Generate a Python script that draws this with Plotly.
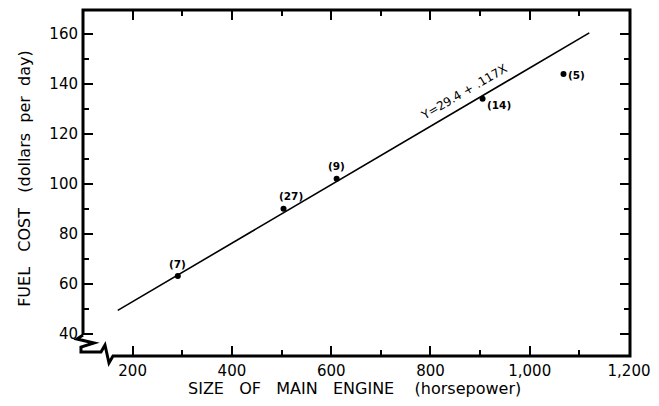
import plotly.graph_objects as go

# Observed fleet averages: engine size vs daily fuel cost, with sample counts
engine_hp = [291, 504, 611, 905, 1068]
fuel_cost = [63, 90, 102, 134, 144]
sample_n = ["(7)", "(27)", "(9)", "(14)", "(5)"]
label_dx = [0, 7, 0, 16, 13]
label_dy = [-12, -13, -13, 6, 1]

# Fitted regression line Y = a + bX drawn over this span
fit_a = 29.4
fit_b = 0.117
fit_span = [170, 1120]

x_ticks = [200, 400, 600, 800, 1000, 1200]
x_ticktext = ["200", "400", "600", "800", "1,000", "1,200"]
x_minor = [300, 500, 700, 900, 1100]
y_ticks = [40, 60, 80, 100, 120, 140, 160]
y_minor = [50, 70, 90, 110, 130, 150]

FONT = "DejaVu Sans"
INK = "#000000"

fig = go.Figure()

fig.add_trace(go.Scatter(
    x=fit_span,
    y=[fit_a + fit_b * v for v in fit_span],
    mode="lines",
    line=dict(color=INK, width=1.6),
    showlegend=False,
    hoverinfo="skip",
))

fig.add_trace(go.Scatter(
    x=engine_hp,
    y=fuel_cost,
    mode="markers",
    marker=dict(color=INK, size=6),
    showlegend=False,
))

annotations = []
for xv, yv, t, dx, dy in zip(engine_hp, fuel_cost, sample_n, label_dx, label_dy):
    annotations.append(dict(
        x=xv, y=yv, xref="x", yref="y", text=t, showarrow=False,
        xshift=dx, yshift=-dy,
        font=dict(family=FONT, size=10.5, color=INK, weight="bold"),
    ))

# Equation written along the fitted line
eq_x = 880
annotations.append(dict(
    x=eq_x, y=fit_a + fit_b * eq_x, xref="x", yref="y",
    text="Y=29.4 + .117X", showarrow=False,
    textangle=-30.4, xshift=-6, yshift=11,
    font=dict(family=FONT, size=12, color=INK),
))

# Axis titles
annotations.append(dict(
    x=(354 - 83) / 547.0, y=-0.095, xref="paper", yref="paper",
    text="SIZE   OF   MAIN   ENGINE    (horsepower)", showarrow=False,
    font=dict(family=FONT, size=16, color=INK),
    xanchor="center", yanchor="middle",
))
annotations.append(dict(
    x=-0.106, y=0.512, xref="paper", yref="paper",
    text="FUEL   COST   (dollars  per  day)", showarrow=False,
    textangle=-90,
    font=dict(family=FONT, size=16, color=INK),
    xanchor="center", yanchor="middle",
))

# Frame, with a broken corner at the lower left
W, H = 547.0, 346.0
def px(x, y):
    return (x - 83) / W, (356 - y) / H

frame_pts = [
    (83, 335), (83, 10), (630, 10), (630, 356), (113, 356),
    (109, 363), (105, 345), (101, 352), (81, 352),
    (81, 347), (94, 343), (77, 339), (83, 335),
]
path = "M " + " L ".join("%.4f,%.4f" % px(a, b) for a, b in frame_pts)
shapes = [dict(
    type="path", path=path, xref="paper", yref="paper",
    line=dict(color=INK, width=3), fillcolor="rgba(0,0,0,0)",
    layer="above",
)]

axis_common = dict(
    showgrid=False, zeroline=False, showline=False,
    ticks="inside", mirror="allticks", ticklen=10, tickwidth=2,
    tickcolor=INK,
    tickfont=dict(family=FONT, size=15, color=INK),
)

fig.update_layout(
    width=659, height=406,
    margin=dict(l=83, r=29, t=10, b=50),
    paper_bgcolor="white", plot_bgcolor="white",
    xaxis=dict(
        range=[100, 1202], tickmode="array", tickvals=x_ticks,
        ticktext=x_ticktext, ticklabelstandoff=4,
        minor=dict(tickmode="array", tickvals=x_minor, ticks="inside",
                   ticklen=6, tickwidth=1.5, tickcolor=INK),
        **axis_common,
    ),
    yaxis=dict(
        range=[31, 169.6], tickmode="array", tickvals=y_ticks,
        minor=dict(tickmode="array", tickvals=y_minor, ticks="inside",
                   ticklen=6, tickwidth=1.5, tickcolor=INK),
        ticklabelstandoff=4,
        **axis_common,
    ),
    annotations=annotations,
    shapes=shapes,
)

fig.write_html("out.html")
